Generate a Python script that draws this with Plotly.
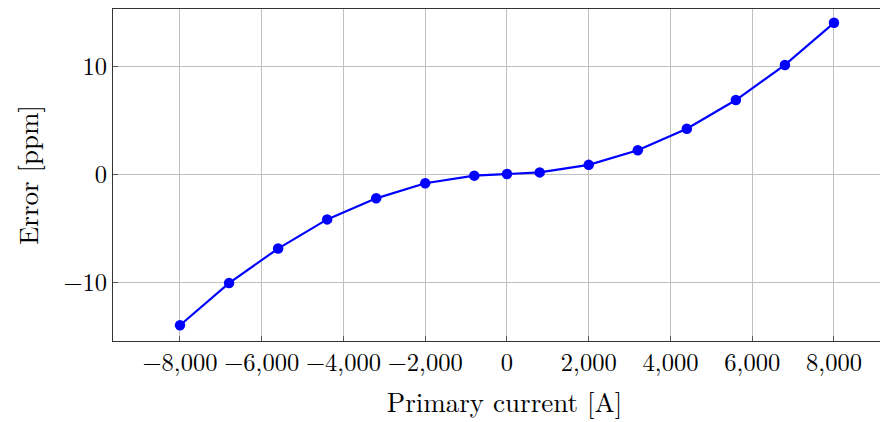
import plotly.graph_objects as go

current = [-8000, -6800, -5600, -4400, -3200, -2000, -800, 0, 800, 2000, 3200, 4400, 5600, 6800, 8000]
error_ppm = [-14.0, -10.1, -6.9, -4.2, -2.25, -0.85, -0.15, 0.0, 0.15, 0.85, 2.2, 4.2, 6.85, 10.1, 14.0]
x_ticks = [-8000, -6000, -4000, -2000, 0, 2000, 4000, 6000, 8000]
x_tick_labels = ["\u22128,000", "\u22126,000", "\u22124,000", "\u22122,000",
                 "0", "2,000", "4,000", "6,000", "8,000"]
y_ticks = [-10, 0, 10]
y_tick_labels = ["\u221210", "0", "10"]

fig = go.Figure(go.Scatter(
    x=current, y=error_ppm, mode="lines+markers",
    line=dict(color="#0000ff", width=2.2),
    marker=dict(color="#0000ff", size=10.5),
))

font = "Latin Modern Roman, CMU Serif, Liberation Serif, DejaVu Serif, serif"
axis_common = dict(
    showgrid=True, gridcolor="#bfbfbf", gridwidth=1,
    showline=True, linecolor="#333333", linewidth=1,
    ticks="inside", ticklen=5, tickcolor="#555555",
    zeroline=False,
    tickfont=dict(size=24.5, color="black", family=font),
)
fig.update_layout(
    width=888, height=422,
    margin=dict(l=105, r=0, t=1, b=89),
    plot_bgcolor="white", paper_bgcolor="white",
    showlegend=False,
    font=dict(family=font, color="black"),
    xaxis=dict(range=[-9639, 9517], tickvals=x_ticks, ticktext=x_tick_labels, mirror=True,
               title=dict(text="Primary current [A]", font=dict(size=27), standoff=15),
               **axis_common),
    yaxis=dict(range=[-15.46, 15.28], tickvals=y_ticks, ticktext=y_tick_labels, mirror=False,
               title=dict(text="Error [ppm]", font=dict(size=27), standoff=34),
               **axis_common),
)
fig.write_html("out.html")
